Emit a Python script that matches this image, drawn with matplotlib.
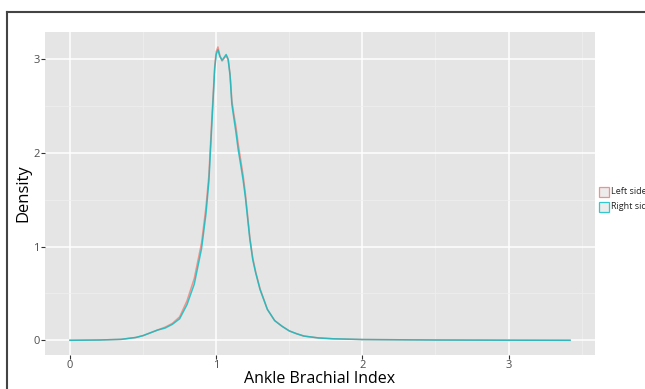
import numpy as np
import matplotlib.pyplot as plt
from matplotlib.lines import Line2D
from matplotlib.patches import Rectangle

plt.rcParams['font.family'] = ['Open Sans', 'DejaVu Sans']

# density estimates
abi = [0, 0.2, 0.35, 0.45, 0.5, 0.55, 0.6, 0.65, 0.7, 0.75, 0.8, 0.85, 0.9,
       0.93, 0.95, 0.97, 0.99, 1.0, 1.012, 1.025, 1.04, 1.055, 1.068, 1.082,
       1.095, 1.107, 1.12, 1.135, 1.15, 1.17, 1.185, 1.2, 1.215, 1.23, 1.25,
       1.27, 1.3, 1.35, 1.4, 1.45, 1.5, 1.55, 1.6, 1.7, 1.8, 2.0, 2.5, 3.0,
       3.42]
right_side = [0, 0.003, 0.01, 0.03, 0.05, 0.08, 0.11, 0.13, 0.17, 0.23, 0.38,
              0.6, 0.98, 1.35, 1.7, 2.3, 2.9, 3.05, 3.1, 3.03, 2.99, 3.02, 3.05,
              3.0, 2.82, 2.52, 2.38, 2.22, 2.04, 1.85, 1.7, 1.52, 1.3, 1.08,
              0.86, 0.72, 0.54, 0.33, 0.21, 0.15, 0.1, 0.07, 0.045, 0.025,
              0.016, 0.008, 0.003, 0.001, 0]
left_side = [0, 0.003, 0.01, 0.03, 0.05, 0.08, 0.11, 0.14, 0.18, 0.25, 0.42,
             0.66, 1.04, 1.42, 1.76, 2.36, 2.93, 3.08, 3.13, 3.04, 2.98, 3.01,
             3.04, 2.99, 2.84, 2.56, 2.42, 2.28, 2.1, 1.9, 1.75, 1.56, 1.33,
             1.1, 0.88, 0.73, 0.55, 0.33, 0.21, 0.15, 0.1, 0.07, 0.045, 0.025,
             0.016, 0.008, 0.003, 0.001, 0]

series = ["Left side", "Right side"]
colors = ["#F8766D", "#00BFC4"]

fig = plt.figure(figsize=(6.45, 3.89), dpi=100)
ax = fig.add_axes([45 / 645, 34 / 389, 550 / 645, 323 / 389])
ax.set_facecolor("#E5E5E5")

ax.plot(abi, left_side, color=colors[0], lw=1.1, alpha=0.75, zorder=3)
ax.plot(abi, right_side, color=colors[1], lw=1.1, alpha=0.8, zorder=4)

ax.set_xlim(-0.171, 3.591)
ax.set_ylim(-0.157, 3.29)
ax.set_xticks([0, 1, 2, 3])
ax.set_yticks([0, 1, 2, 3])
ax.set_xticks([0.5, 1.5, 2.5, 3.5], minor=True)
ax.set_yticks([0.5, 1.5, 2.5], minor=True)
ax.grid(which="major", color="white", lw=1.1)
ax.grid(which="minor", color="#F0F0F0", lw=0.5)
ax.set_axisbelow(True)
for s in ax.spines.values():
    s.set_visible(False)
ax.tick_params(which="major", length=3, color="#333333", labelsize=8,
               labelcolor="#4D4D4D", pad=1)
ax.tick_params(axis="x", which="major", pad=0.3)
ax.tick_params(which="minor", length=0)

ax.set_xlabel("Ankle Brachial Index", fontsize=11.5, labelpad=0.3)
ax.set_ylabel("Density", fontsize=12, labelpad=1)

# legend outside on the right, partly cut off like the original
for i, (name, c) in enumerate(zip(series, colors)):
    y0 = 1 - (197 + 15 * i) / 389
    fig.add_artist(Rectangle((599 / 645, y0), 10 / 645, 10 / 389,
                             transform=fig.transFigure, facecolor="#E8E8E8",
                             edgecolor=c, lw=0.9, alpha=0.8))
    fig.text(611 / 645, y0 + 5 / 389, name, fontsize=6.5, va="center",
             ha="left", color="#222222")

# outer frame (top and left edges)
fig.add_artist(Line2D([7 / 645, 1], [1 - 12 / 389, 1 - 12 / 389],
                      transform=fig.transFigure, color="#444444", lw=1.5))
fig.add_artist(Line2D([7 / 645, 7 / 645], [0, 1 - 12 / 389],
                      transform=fig.transFigure, color="#444444", lw=1.5))

plt.savefig("out.png", dpi=100)
